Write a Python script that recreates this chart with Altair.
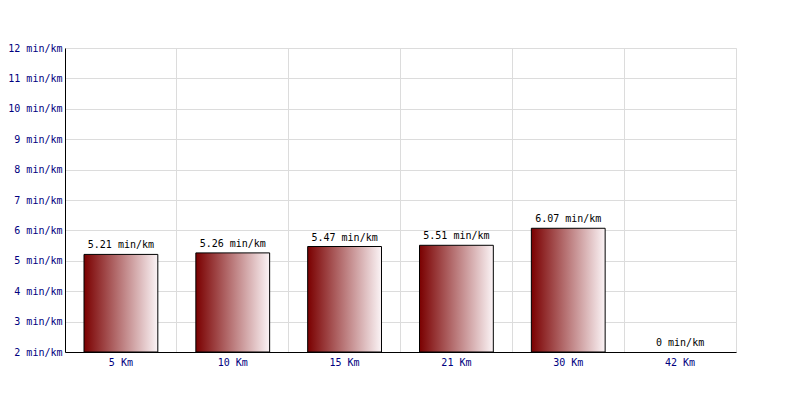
import altair as alt
import pandas as pd

categories = ["5 Km", "10 Km", "15 Km", "21 Km", "30 Km", "42 Km"]
values = [5.21, 5.26, 5.47, 5.51, 6.07, 0]
labels = ["5.21 min/km", "5.26 min/km", "5.47 min/km", "5.51 min/km", "6.07 min/km", "0 min/km"]

df = pd.DataFrame({"cat": categories, "value": values, "label": labels})

FONT = "DejaVu Sans Mono"

x_axis = alt.Axis(labelAngle=0, ticks=False, grid=True, bandPosition=0,
                  gridColor="#dcdcdc", domainColor="black", labelColor="#000080",
                  labelFont=FONT, labelFontSize=10, labelPadding=5)
y_axis = alt.Axis(values=list(range(2, 13)), labelExpr="datum.value + ' min/km'",
                  ticks=False, gridColor="#dcdcdc", domainColor="black",
                  labelColor="#000080", labelFont=FONT, labelFontSize=10,
                  labelPadding=3, labelOverlap=False, labelFlush=False,
                  labelBound=False)
x_scale = alt.Scale(paddingInner=0, paddingOuter=0)
y_scale = alt.Scale(domain=[2, 12], nice=False)

base = alt.Chart(df).transform_calculate(
    ypos="max(datum.value, 2)"
)

bars = base.transform_filter("datum.value > 2").mark_bar(
    color=alt.Gradient(gradient="linear", x1=0, x2=1, y1=0, y2=0,
                       stops=[alt.GradientStop(color="#7a0000", offset=0),
                              alt.GradientStop(color="#fbf4f6", offset=1)]),
    stroke="black", strokeWidth=1, width=alt.RelativeBandSize(0.66)
).encode(
    x=alt.X("cat:N", sort=categories, title=None, scale=x_scale, axis=x_axis),
    y=alt.Y("value:Q", title=None, scale=y_scale, axis=y_axis),
    y2=alt.datum(2),
)

text = base.mark_text(font=FONT, fontSize=10, color="black", baseline="bottom", dy=-4).encode(
    x=alt.X("cat:N", sort=categories, title=None, scale=x_scale, axis=x_axis),
    y=alt.Y("ypos:Q", title=None, scale=y_scale, axis=y_axis),
    text="label:N",
)

chart = (bars + text).properties(
    width=671, height=304,
    autosize=alt.AutoSizeParams(type="none"),
    padding={"left": 57, "top": 40, "right": 56, "bottom": 40},
    background="white",
).configure_view(stroke="#dcdcdc")

chart.save("out.html", embed_options={"renderer": "svg", "actions": False})
